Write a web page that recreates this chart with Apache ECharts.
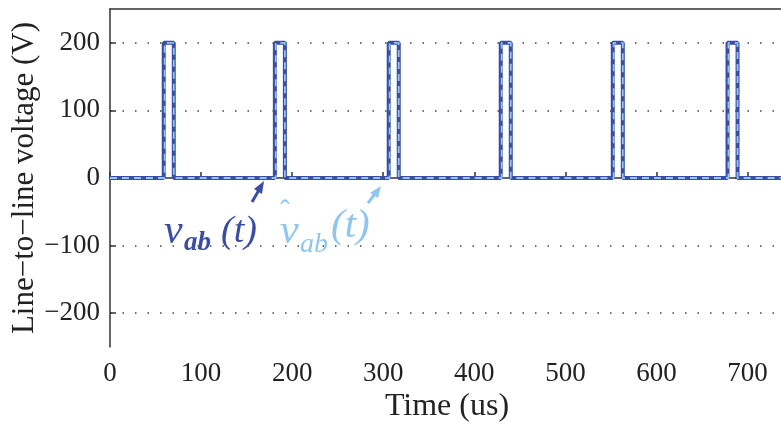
<!DOCTYPE html>
<html>
<head>
<meta charset="utf-8">
<script src="https://cdn.jsdelivr.net/npm/echarts@6/dist/echarts.min.js"></script>
<style>html,body{margin:0;padding:0;background:#fff}#c{width:781px;height:422px}</style>
</head>
<body>
<div id="c"></div>
<script>
// Data (time in microseconds, voltage in volts)
var vabTime = [0, 59, 59, 70, 70, 181, 181, 192, 192, 306, 306, 317, 317, 429, 429, 440, 440, 552, 552, 563, 563, 678, 678, 689, 689, 740];
var vabVolt = [0, 0, 200, 200, 0, 0, 200, 200, 0, 0, 200, 200, 0, 0, 200, 200, 0, 0, 200, 200, 0, 0, 200, 200, 0, 0];
var vhatTime = [0, 60, 60, 70, 70, 182, 182, 192, 192, 307, 307, 317, 317, 430, 430, 440, 440, 553, 553, 563, 563, 679, 679, 689, 689, 740];
var vhatVolt = [0, 0, 200, 200, 0, 0, 200, 200, 0, 0, 200, 200, 0, 0, 200, 200, 0, 0, 200, 200, 0, 0, 200, 200, 0, 0];
var xTicks = [0, 100, 200, 300, 400, 500, 600, 700];
var yTicks = [-200, -100, 0, 100, 200];

function pairs(t, v) { return t.map(function (x, i) { return [x, v[i]]; }); }

var chart = echarts.init(document.getElementById('c'), null, { renderer: 'canvas' });
var serif = '"Liberation Serif", "DejaVu Serif", serif';
var darkBlue = '#3a4ca4';
var lightBlue = '#8ec6ef';

chart.setOption({
  animation: false,
  backgroundColor: '#fff',
  grid: { left: 110, right: -3, top: 9, bottom: 75, containLabel: false, outerBoundsMode: 'none' },
  xAxis: [{
    type: 'value', min: 0, max: 740, interval: 100,
    name: 'Time (us)', nameLocation: 'middle', nameGap: 44, nameMoveOverlap: false,
    nameTextStyle: { fontFamily: serif, fontSize: 32, color: '#222' },
    axisLine: { show: true, lineStyle: { color: '#333', width: 1.5 } },
    axisTick: { show: true, inside: true, length: 6, lineStyle: { color: '#333', width: 1.5 },
      customValues: xTicks },
    axisLabel: { fontFamily: serif, fontSize: 27, color: '#222', margin: 13,
      customValues: xTicks,
      formatter: function (v) { return xTicks.indexOf(v) >= 0 ? String(v) : ''; } },
    splitLine: { show: false }
  }, {
    type: 'value', min: 0, max: 740, interval: 100, position: 'top',
    axisLine: { show: true, lineStyle: { color: '#333', width: 1.5 } },
    axisTick: { show: false }, axisLabel: { show: false }, splitLine: { show: false }
  }],
  yAxis: {
    type: 'value', min: -250, max: 250, interval: 100,
    name: 'Line\u2212to\u2212line voltage (V)', nameLocation: 'middle', nameGap: 70, nameMoveOverlap: false,
    nameTextStyle: { fontFamily: serif, fontSize: 31, color: '#222' },
    axisLine: { show: true, lineStyle: { color: '#333', width: 1.5 } },
    axisTick: { show: true, inside: true, length: 6, lineStyle: { color: '#333', width: 1.5 },
      customValues: yTicks },
    axisLabel: { fontFamily: serif, fontSize: 27, color: '#222', margin: 10,
      customValues: yTicks,
      formatter: function (v) { return String(v).replace('-', '\u2212'); } },
    splitLine: { show: true, lineStyle: { color: '#444', width: 1.5, type: [1.5, 11] } }
  },
  series: [{
    type: 'line', name: 'vab', data: pairs(vabTime, vabVolt), showSymbol: false,
    lineStyle: { color: darkBlue, width: 4 }, z: 3
  }, {
    type: 'line', name: 'vhat', data: pairs(vhatTime, vhatVolt), showSymbol: false,
    lineStyle: { color: lightBlue, width: 1.8, type: [7, 5] }, z: 4
  }],
  graphic: [
    { type: 'text', left: 164, top: 211, z: 10, style: { text: 'v', font: 'italic 42px ' + serif, fill: darkBlue } },
    { type: 'text', left: 184, top: 230, z: 10, style: { text: 'ab', font: 'italic bold 27px ' + serif, fill: darkBlue } },
    { type: 'text', left: 221, top: 213, z: 10, style: { text: '(t)', font: 'italic 38px ' + serif, fill: darkBlue } },
    { type: 'line', z: 10, shape: { x1: 252, y1: 202, x2: 259, y2: 190 }, style: { stroke: darkBlue, lineWidth: 3 } },
    { type: 'polygon', z: 10, shape: { points: [[264, 181], [254, 189], [262, 194]] }, style: { fill: darkBlue } },

    { type: 'text', left: 280, top: 197, z: 10, style: { text: '\u02C6', font: '30px ' + serif, fill: lightBlue } },
    { type: 'text', left: 280, top: 211, z: 10, style: { text: 'v', font: 'italic 42px ' + serif, fill: lightBlue } },
    { type: 'text', left: 300, top: 231, z: 10, style: { text: 'ab', font: 'italic 28px ' + serif, fill: lightBlue } },
    { type: 'text', left: 331, top: 206, z: 10, style: { text: '(t)', font: 'italic 41px ' + serif, fill: lightBlue } },
    { type: 'line', z: 10, shape: { x1: 368, y1: 203, x2: 375, y2: 194 }, style: { stroke: lightBlue, lineWidth: 3 } },
    { type: 'polygon', z: 10, shape: { points: [[381, 186], [370, 193], [378, 198]] }, style: { fill: lightBlue } }
  ]
});
</script>
</body>
</html>
